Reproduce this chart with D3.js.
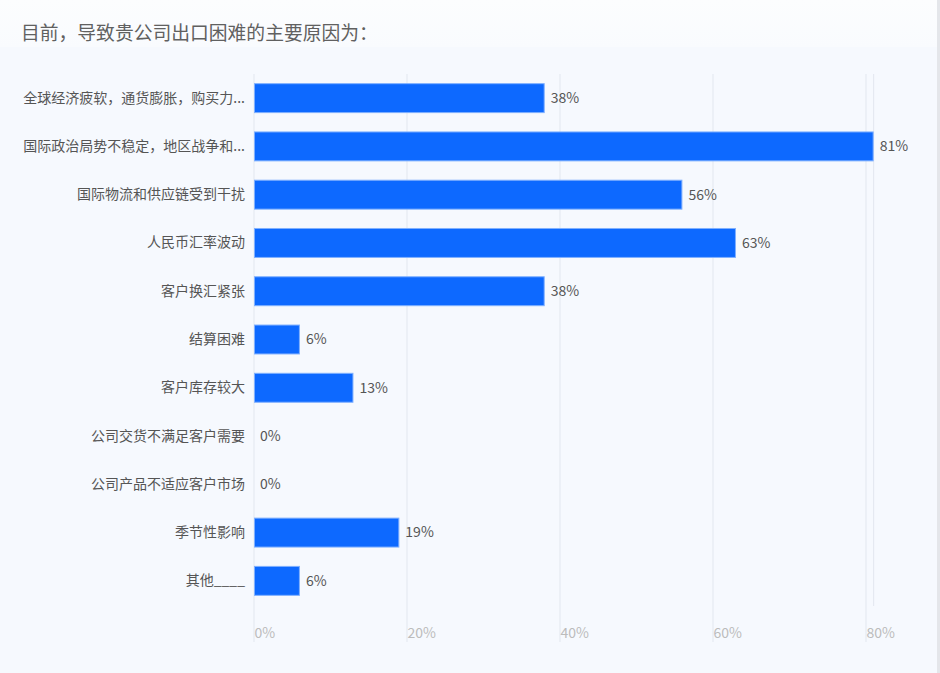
<!DOCTYPE html>
<html><head><meta charset="utf-8">
<script src="https://cdn.jsdelivr.net/npm/d3@7/dist/d3.min.js"></script>
<style>
html,body{margin:0;padding:0;background:#f6f9fe;}
svg{display:block;}
text{font-family:"Microsoft YaHei","Noto Sans CJK SC","Noto Sans",sans-serif;}
</style></head>
<body>
<svg id="chart" width="940" height="673"></svg>
<script>
const title = "目前，导致贵公司出口困难的主要原因为：";
const categories = [
  "全球经济疲软，通货膨胀，购买力...",
  "国际政治局势不稳定，地区战争和...",
  "国际物流和供应链受到干扰",
  "人民币汇率波动",
  "客户换汇紧张",
  "结算困难",
  "客户库存较大",
  "公司交货不满足客户需要",
  "公司产品不适应客户市场",
  "季节性影响",
  "其他____"
];
const values = [38, 81, 56, 63, 38, 6, 13, 0, 0, 19, 6];
const xTicks = [0, 20, 40, 60, 80];

const svg = d3.select("#chart");
const W = 940, H = 673;
const FONT = '"Microsoft YaHei","Noto Sans CJK SC","Noto Sans",sans-serif';

// backgrounds
const defs = svg.append("defs");
const g0 = defs.append("linearGradient").attr("id","hdr").attr("x1",0).attr("y1",0).attr("x2",0).attr("y2",1);
g0.append("stop").attr("offset","0%").attr("stop-color","#fcfdfe");
g0.append("stop").attr("offset","100%").attr("stop-color","#f9fbfe");
svg.append("rect").attr("x",0).attr("y",0).attr("width",W).attr("height",H).attr("fill","#f6f9fe");
svg.append("rect").attr("x",0).attr("y",0).attr("width",W).attr("height",47).attr("fill","url(#hdr)");
svg.append("rect").attr("x",937).attr("y",0).attr("width",3).attr("height",H).attr("fill","#e4e6ea");

svg.append("text").attr("x",21).attr("y",39.5)
  .attr("font-size",18.8).attr("fill","#606060").text(title);

const maxV = d3.max(values);
const x = d3.scaleLinear().domain([0, maxV]).range([254, 254 + maxV * 7.65]);
const y = d3.scaleBand().domain(categories).range([74, 605]).paddingInner(0.38).paddingOuter(0.19);

// grid lines
const grid = svg.append("g");
grid.selectAll("line.tick").data(xTicks).join("line")
  .attr("x1", d => x(d)).attr("x2", d => x(d))
  .attr("y1", 74).attr("y2", 642)
  .attr("stroke", "#e2e7ef").attr("stroke-width", 1);
grid.append("line")
  .attr("x1", x(maxV)).attr("x2", x(maxV))
  .attr("y1", 74).attr("y2", 606)
  .attr("stroke", "#e2e7ef").attr("stroke-width", 1);

// x axis labels via d3 axis
const axis = d3.axisBottom(x).tickValues(xTicks).tickFormat(d => d + "%").tickSize(0).tickPadding(0);
const ax = svg.append("g").attr("transform", "translate(0,627)").call(axis);
ax.select(".domain").remove();
ax.selectAll("text")
  .attr("text-anchor", "start").attr("dy", "0.35em").attr("y", 6)
  .attr("font-size", 14).attr("fill", "#bcbcbc")
  .style("font-family", FONT);

// y axis labels
const yAxis = d3.axisLeft(y).tickSize(0).tickPadding(0);
const ay = svg.append("g").attr("transform", "translate(245,0)").call(yAxis);
ay.select(".domain").remove();
ay.selectAll("text")
  .attr("font-size", 14).attr("fill", "#555")
  .style("font-family", FONT);

// bars
svg.append("g").selectAll("rect").data(values).join("rect")
  .attr("x", x(0) + 0.5)
  .attr("y", (d, i) => y(categories[i]) + 0.5)
  .attr("width", d => Math.max(0, x(d) - x(0) - 1))
  .attr("height", y.bandwidth() - 1)
  .attr("fill", d => d > 0 ? "#0d69ff" : "none")
  .attr("stroke", d => d > 0 ? "#7fb0ff" : "none")
  .attr("stroke-width", 1);

// value labels
svg.append("g").selectAll("text").data(values).join("text")
  .attr("x", d => x(d) + 6)
  .attr("y", (d, i) => y(categories[i]) + y.bandwidth() / 2)
  .attr("dy", "0.35em")
  .attr("font-size", 14).attr("fill", "#555")
  .text(d => d + "%");
</script>
</body></html>
